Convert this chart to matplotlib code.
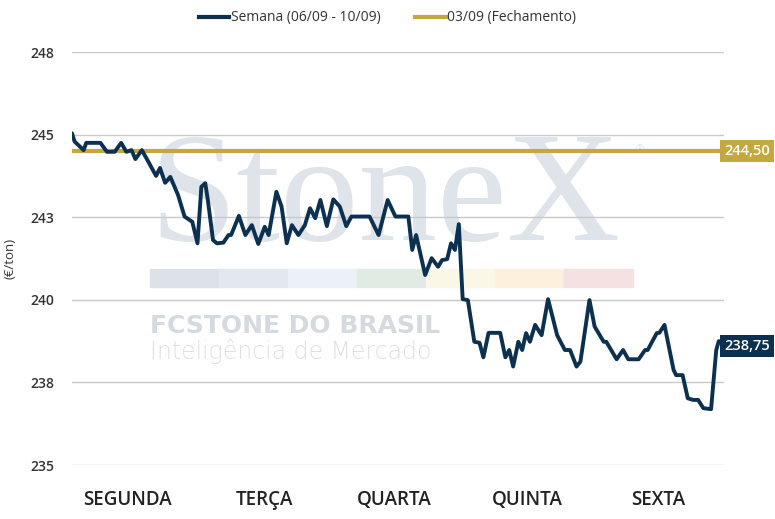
import numpy as np
import matplotlib.pyplot as plt
from matplotlib.transforms import blended_transform_factory
from matplotlib.lines import Line2D

# time in trading days from monday open, price in EUR/ton
tempo = [0.00, 0.02, 0.09, 0.11, 0.22, 0.27, 0.33, 0.38, 0.42, 0.46,
         0.49, 0.54, 0.59, 0.65, 0.68, 0.72, 0.76, 0.82, 0.87, 0.93,
         0.97, 1.00, 1.03, 1.05, 1.09, 1.12, 1.17, 1.21, 1.23, 1.29,
         1.34, 1.39, 1.44, 1.49, 1.52, 1.58, 1.62, 1.66, 1.70, 1.75,
         1.80, 1.84, 1.88, 1.92, 1.97, 2.02, 2.07, 2.12, 2.16, 2.30,
         2.37, 2.44, 2.50, 2.60, 2.63, 2.66, 2.73, 2.78, 2.83, 2.86,
         2.90, 2.93, 2.96, 2.99, 3.02, 3.06, 3.11, 3.15, 3.18, 3.22,
         3.31, 3.35, 3.38, 3.41, 3.45, 3.48, 3.51, 3.54, 3.58, 3.63,
         3.68, 3.75, 3.81, 3.85, 3.90, 3.93, 4.00, 4.04, 4.11, 4.13,
         4.21, 4.26, 4.30, 4.38, 4.43, 4.45, 4.52, 4.54, 4.58, 4.65,
         4.67, 4.72, 4.76, 4.80, 4.84, 4.88, 4.94, 4.98, 5.00]
preco = [245.04, 244.79, 244.53, 244.75, 244.75, 244.48, 244.48, 244.75, 244.48, 244.53,
         244.26, 244.53, 244.18, 243.75, 243.99, 243.54, 243.72, 243.17, 242.52, 242.36,
         241.71, 243.42, 243.53, 243.02, 241.81, 241.71, 241.73, 241.96, 241.96, 242.54,
         241.96, 242.26, 241.69, 242.21, 241.96, 243.27, 242.82, 241.71, 242.26, 241.96,
         242.26, 242.77, 242.47, 243.02, 242.23, 243.04, 242.82, 242.23, 242.52, 242.52,
         241.96, 243.02, 242.52, 242.52, 241.51, 241.96, 240.75, 241.26, 241.00, 241.20,
         241.23, 241.71, 241.51, 242.29, 240.02, 239.99, 238.73, 238.70, 238.26, 239.00,
         239.00, 238.26, 238.48, 237.98, 238.73, 238.48, 238.99, 238.73, 239.24, 238.93,
         240.02, 238.93, 238.48, 238.48, 237.98, 238.13, 239.99, 239.19, 238.73, 238.73,
         238.20, 238.48, 238.20, 238.20, 238.48, 238.48, 238.99, 239.00, 239.24, 237.88,
         237.72, 237.72, 237.02, 236.97, 236.97, 236.72, 236.69, 238.48, 238.75]
fechamento = 244.50

dias = ["SEGUNDA", "TERÇA", "QUARTA", "QUINTA", "SEXTA"]
dias_pos = [0.43, 1.49, 2.49, 3.52, 4.53]
yticks = [235, 237.5, 240, 242.5, 245, 247.5]
ytick_labels = ["235", "238", "240", "243", "245", "248"]

navy = "#0c3150"
gold = "#c2a83e"
plt.rcParams['font.family'] = ['Open Sans', 'DejaVu Sans']

fig = plt.figure(figsize=(7.75, 5.19), dpi=100)
ax = fig.add_axes([72/775, (519-465)/519, (724-72)/775, (465-52)/519])
ax.set_zorder(2)
ax.set_facecolor("none")

# watermark behind the axes
fig.text(150/775, (519-240)/519, "StoneX", family="Liberation Serif", fontsize=113,
         color="#dfe4ea", ha="left", va="baseline", zorder=0)
fig.text(636/775, (519-152)/519, "®", fontsize=7, color="#dfe4ea", zorder=0)
strip = ["#dde2e8", "#e3e8ef", "#ecf1f8", "#e0ebe3", "#faf7e6", "#fdf1dd", "#f5e1e2"]
for i, c in enumerate(strip):
    fig.patches.append(plt.Rectangle(((150 + i*69)/775, (519-287)/519), 69/775, 18/519,
                                     transform=fig.transFigure, color=c, zorder=0))
fig.text(150/775, (519-333)/519, "FCSTONE DO BRASIL", family="DejaVu Sans", fontsize=18,
         fontweight="bold", color="#d5dae0", ha="left", va="baseline", zorder=0)
fig.text(150/775, (519-359)/519, "Inteligência de Mercado", family="DejaVu Sans",
         fontsize=17, fontweight="light", color="#dde1e6", ha="left", va="baseline", zorder=0)

ax.plot(tempo, preco, color=navy, lw=2.8, solid_joinstyle="round", solid_capstyle="round", zorder=3)
ax.axhline(fechamento, color=gold, lw=3, zorder=2)

ax.set_xlim(0, 5.04)
ax.set_ylim(235, 247.5)
ax.set_yticks(yticks)
ax.set_yticklabels(ytick_labels)
ax.set_xticks(dias_pos)
ax.set_xticklabels(dias)
ax.grid(axis="y", color="#c8c8c8", lw=1)
ax.set_axisbelow(True)
for s in ax.spines.values():
    s.set_visible(False)
ax.tick_params(axis="y", length=0, pad=13, labelsize=10, labelcolor="#333333")
ax.tick_params(axis="x", length=0, pad=18, labelsize=13.5, labelcolor="#222222")
for lab in ax.get_yticklabels():
    lab.set_fontweight("semibold")
for lab in ax.get_xticklabels():
    lab.set_fontweight("semibold")
ax.set_ylabel("(€/ton)", fontsize=9.5, color="#333333")
ax.yaxis.set_label_coords((17-72)/652, 0.5)

# value labels on the right
tr = blended_transform_factory(fig.transFigure, ax.transData)
ax.text(747/775, fechamento, "244,50", transform=tr, ha="center", va="center",
        color="white", fontsize=10.5, fontweight="semibold", clip_on=False,
        bbox=dict(boxstyle="square,pad=0.3", facecolor=gold, edgecolor="none"))
ax.text(747/775, preco[-1] - 0.15, "238,75", transform=tr, ha="center", va="center",
        color="white", fontsize=10.5, fontweight="semibold", clip_on=False,
        bbox=dict(boxstyle="square,pad=0.3", facecolor=navy, edgecolor="none"))

handles = [Line2D([], [], color=navy, lw=3), Line2D([], [], color=gold, lw=3)]
fig.legend(handles, ["Semana (06/09 - 10/09)", "03/09 (Fechamento)"], loc="center",
           bbox_to_anchor=(0.5, (519-18)/519), ncol=2, frameon=False, fontsize=10,
           handlelength=2.2, handletextpad=0.1, columnspacing=2.5, labelcolor="#333333")

fig.savefig("out.png", dpi=100)
